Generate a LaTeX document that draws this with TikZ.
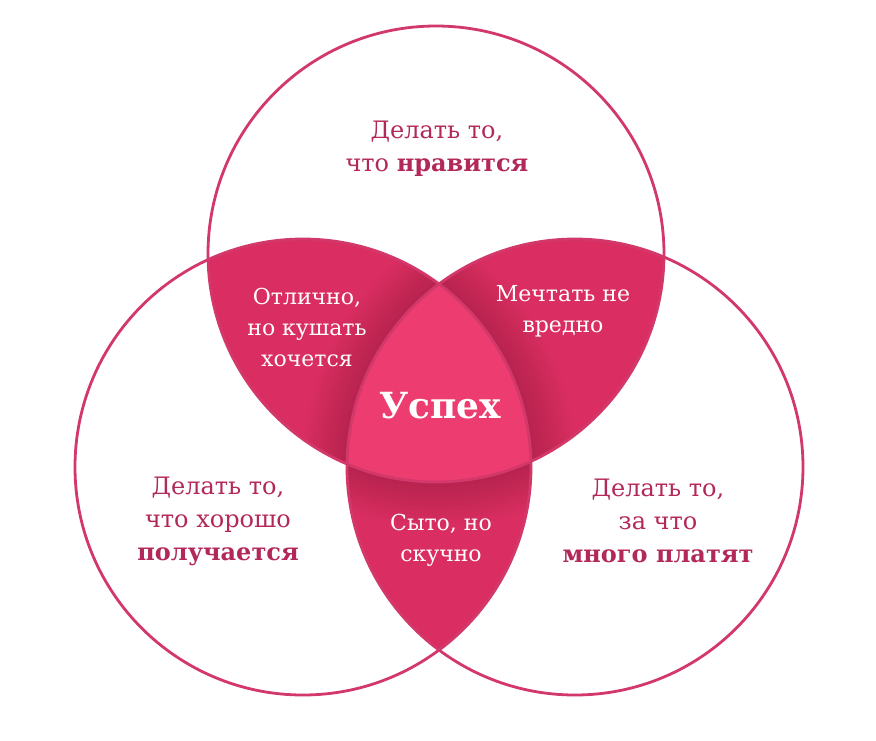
\documentclass[tikz,border=0pt]{standalone}
\usepackage{fontspec}
\setmainfont{DejaVu Serif}
\definecolor{lobe}{HTML}{DA2E62}
\definecolor{core}{HTML}{EC3C70}
\definecolor{ring}{HTML}{D2386A}
\definecolor{txt}{HTML}{B3285A}
\tikzset{
  outer/.style={text=txt, align=center, font=\fontsize{24}{33}\selectfont},
  inner/.style={text=white, align=center, font=\fontsize{22}{31}\selectfont},
  ringline/.style={draw=ring, line width=2.8pt},
  shade/.style={black, opacity=0.012},
}
\begin{document}
\begin{tikzpicture}[x=1pt,y=-1pt]
\useasboundingbox (0,0) rectangle (876,740);
\fill[white] (0,0) rectangle (876,740);
\def\R{228}
\coordinate (T) at (436,254);
\coordinate (L) at (303,467);
\coordinate (Rc) at (575,467);
% lobes
\begin{scope}\clip (T) circle (\R); \fill[lobe] (L) circle (\R); \end{scope}
\begin{scope}\clip (T) circle (\R); \fill[lobe] (Rc) circle (\R); \end{scope}
\begin{scope}\clip (L) circle (\R); \fill[lobe] (Rc) circle (\R); \end{scope}
% soft shading near the core
\begin{scope}\clip (T) circle (\R); \clip (L) circle (\R);
  \foreach \w in {90,82,...,10} {\draw[shade, line width=\w pt] (Rc) circle (\R);}
\end{scope}
\begin{scope}\clip (T) circle (\R); \clip (Rc) circle (\R);
  \foreach \w in {90,82,...,10} {\draw[shade, line width=\w pt] (L) circle (\R);}
\end{scope}
\begin{scope}\clip (L) circle (\R); \clip (Rc) circle (\R);
  \foreach \w in {90,82,...,10} {\draw[shade, line width=\w pt] (T) circle (\R);}
\end{scope}
% core
\begin{scope}\clip (T) circle (\R); \clip (L) circle (\R); \fill[core] (Rc) circle (\R); \end{scope}
% rings
\draw[ringline] (T) circle (\R);
\draw[ringline] (L) circle (\R);
\draw[ringline] (Rc) circle (\R);
% texts
\node[outer] (tt) at (437,149) {Делать то,\\что \textbf{нравится}};
\node[outer] (lt) at (218,521) {Делать то,\\что хорошо\\\textbf{получается}};
\node[outer] (rt) at (658,521) {Делать то,\\за что\\\textbf{много платят}};
\node[inner] (tl) at (307,327) {Отлично,\\но кушать\\хочется};
\node[inner] (tr) at (563,311) {Мечтать не\\вредно};
\node[inner] (bt) at (441,540) {Сыто, но\\скучно};
\node[text=white, font=\bfseries\fontsize{36}{40}\selectfont] (core) at (440,406) {Успех};
\end{tikzpicture}
\end{document}
